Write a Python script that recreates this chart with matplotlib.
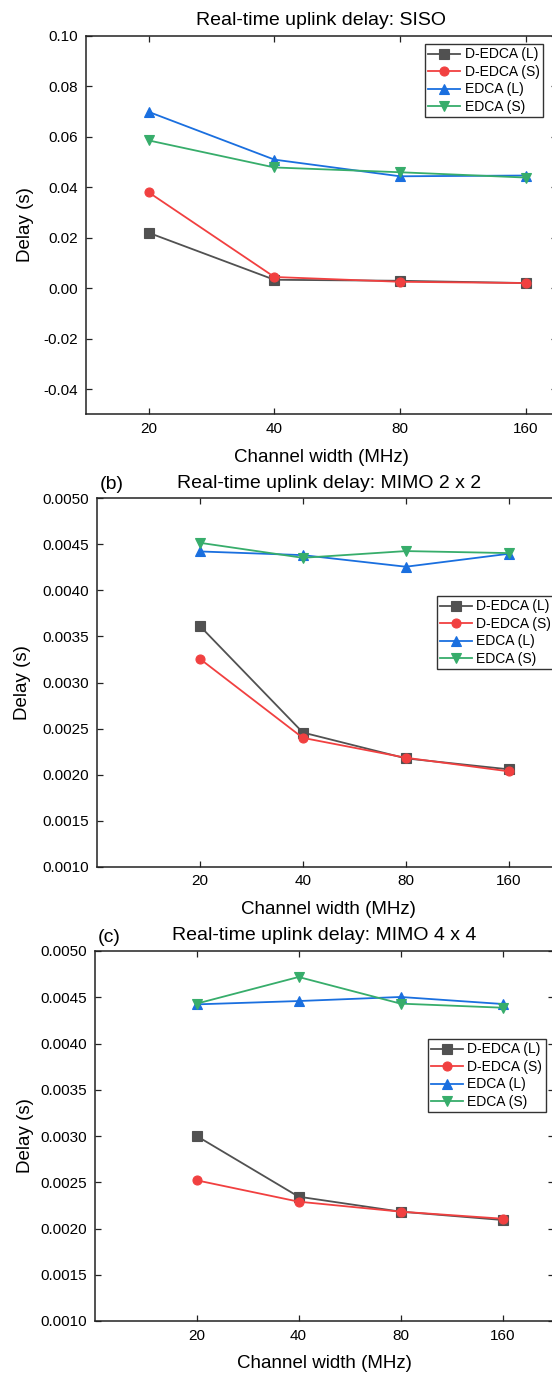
import matplotlib
matplotlib.use("Agg")
import matplotlib.pyplot as plt
from matplotlib.ticker import FormatStrFormatter

plt.rcParams["font.family"] = ["Liberation Sans", "DejaVu Sans"]
plt.rcParams["axes.unicode_minus"] = False

# Channel widths (categorical x axis)
channel_widths = ["20", "40", "80", "160"]

series_names = ["D-EDCA (L)", "D-EDCA (S)", "EDCA (L)", "EDCA (S)"]

# (a) SISO
siso_dedca_l = [0.0219, 0.0033, 0.0029, 0.0020]
siso_dedca_s = [0.0379, 0.0044, 0.0025, 0.0020]
siso_edca_l = [0.0698, 0.0509, 0.0443, 0.0446]
siso_edca_s = [0.0585, 0.0478, 0.0459, 0.0438]

# (b) MIMO 2 x 2
mimo2_dedca_l = [0.003615, 0.002457, 0.002176, 0.002057]
mimo2_dedca_s = [0.003258, 0.002399, 0.002183, 0.002035]
mimo2_edca_l = [0.004423, 0.004383, 0.004257, 0.004398]
mimo2_edca_s = [0.004517, 0.004354, 0.004427, 0.004405]

# (c) MIMO 4 x 4
mimo4_dedca_l = [0.003000, 0.002344, 0.002182, 0.002092]
mimo4_dedca_s = [0.002521, 0.002290, 0.002182, 0.002106]
mimo4_edca_l = [0.004423, 0.004459, 0.004503, 0.004427]
mimo4_edca_s = [0.004431, 0.004719, 0.004431, 0.004387]

colors = ["#515151", "#F14040", "#1A6FDF", "#37AD6B"]
markers = ["s", "o", "^", "v"]

W, H = 552, 1374
fig = plt.figure(figsize=(W / 100, H / 100), dpi=100)


def px_axes(left, top, right, bottom):
    return fig.add_axes([left / W, 1 - bottom / H, (right - left) / W, (bottom - top) / H])


panels = [
    dict(box=(86, 35.7, 557, 414.3), xlim=(-0.5, 3.25), ylim=(-0.05, 0.10),
         yticks=[-0.04, -0.02, 0.00, 0.02, 0.04, 0.06, 0.08, 0.10], fmt="%.2f",
         title="Real-time uplink delay: SISO", tag=None,
         data=[siso_dedca_l, siso_dedca_s, siso_edca_l, siso_edca_s],
         legend=(425, 44)),
    dict(box=(96.7, 498.3, 560.5, 866.7), xlim=(-1, 3.5), ylim=(0.0010, 0.0050),
         yticks=[0.0010, 0.0015, 0.0020, 0.0025, 0.0030, 0.0035, 0.0040, 0.0045, 0.0050],
         fmt="%.4f", title="Real-time uplink delay: MIMO 2 x 2", tag="(b)",
         data=[mimo2_dedca_l, mimo2_dedca_s, mimo2_edca_l, mimo2_edca_s],
         legend=(436.6, 596)),
    dict(box=(94.7, 951, 553.5, 1321), xlim=(-1, 3.5), ylim=(0.0010, 0.0050),
         yticks=[0.0010, 0.0015, 0.0020, 0.0025, 0.0030, 0.0035, 0.0040, 0.0045, 0.0050],
         fmt="%.4f", title="Real-time uplink delay: MIMO 4 x 4", tag="(c)",
         data=[mimo4_dedca_l, mimo4_dedca_s, mimo4_edca_l, mimo4_edca_s],
         legend=(427.8, 1039)),
]

ylabel_x = [26, 22.7, 25.6]

for i, p in enumerate(panels):
    left, top, right, bottom = p["box"]
    ax = px_axes(left, top, right, bottom)
    aw, ah = right - left, bottom - top
    x = range(len(channel_widths))
    for vals, name, c, m in zip(p["data"], series_names, colors, markers):
        ax.plot(x, vals, color=c, marker=m, markersize=6.5, linewidth=1.3,
                label=name, markeredgewidth=0.8)
    ax.set_xlim(*p["xlim"])
    ax.set_ylim(*p["ylim"])
    ax.set_xticks(list(x))
    ax.set_xticklabels(channel_widths)
    ax.set_yticks(p["yticks"])
    ax.yaxis.set_major_formatter(FormatStrFormatter(p["fmt"]))
    ax.tick_params(direction="in", length=4.3, width=0.9, labelsize=11, pad=5.5,
                   top=True, right=True, color="#222222")
    for s in ax.spines.values():
        s.set_linewidth(1.1)
        s.set_color("#222222")

    ax.set_xlabel("Channel width (MHz)", fontsize=13.5)
    ax.xaxis.label.set_verticalalignment("center")
    ax.xaxis.set_label_coords(0.5, -43 / ah)
    ax.set_ylabel("Delay (s)", fontsize=13.5)
    ax.yaxis.label.set_verticalalignment("center")
    ax.yaxis.set_label_coords((ylabel_x[i] - left) / aw, 0.5)

    ax.set_title(p["title"], fontsize=14, y=1 + 15 / ah, va="center", pad=0)
    if p["tag"]:
        ax.text(0.3 / aw + 0.005, 1 + 14 / ah, p["tag"], transform=ax.transAxes,
                fontsize=14, ha="left", va="center")

    lx, ly = p["legend"]
    leg = ax.legend(loc="upper left", bbox_to_anchor=(lx / W, 1 - ly / H),
                    bbox_transform=fig.transFigure, borderaxespad=0, fontsize=10,
                    frameon=True, fancybox=False, borderpad=0.25, labelspacing=0.25,
                    handlelength=2.3, handletextpad=0.3, framealpha=1)
    leg.get_frame().set_edgecolor("#333333")
    leg.get_frame().set_linewidth(1.0)

fig.savefig("out.png", dpi=100)
